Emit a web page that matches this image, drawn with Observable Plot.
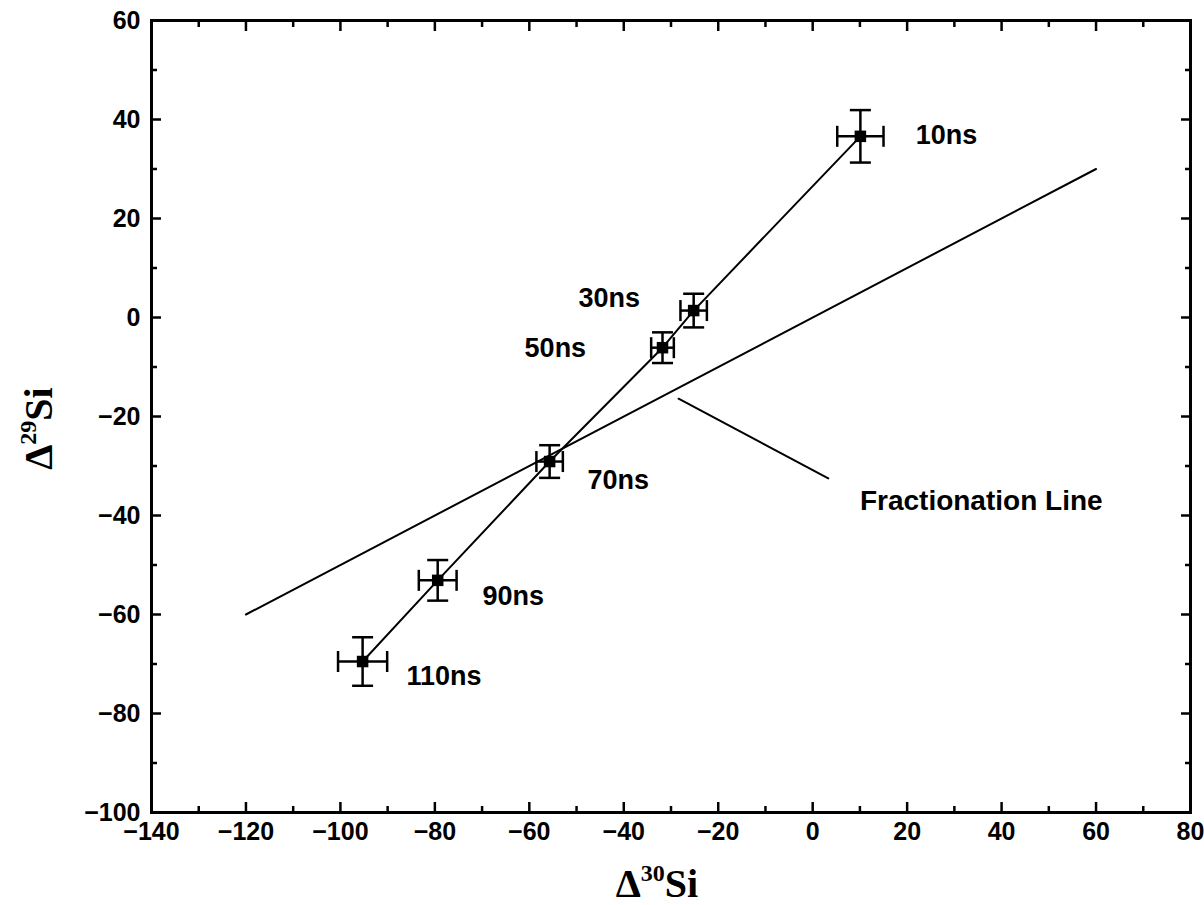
<!DOCTYPE html>
<html>
<head>
<meta charset="utf-8">
<script src="https://cdn.jsdelivr.net/npm/d3@7"></script>
<script src="https://cdn.jsdelivr.net/npm/@observablehq/plot@0.6"></script>
<style>
  body { margin: 0; background: white; }
</style>
</head>
<body>
<div id="chart"></div>
<script>
// Data: Δ30Si (x) and Δ29Si (y) with errors, by delay time
const labels   = ["10ns", "30ns", "50ns", "70ns", "90ns", "110ns"];
const d30      = [10.1, -25.2, -31.8, -55.7, -79.4, -95.3];
const d29      = [36.6, 1.4, -6.1, -29.1, -53.1, -69.5];
const d30Err   = [4.9, 2.8, 2.4, 2.8, 4.0, 5.2];
const d29Err   = [5.3, 3.4, 3.1, 3.3, 4.1, 4.9];
// label anchor positions (data units)
const labelX   = [21.8, -49.6, -61.0, -47.7, -69.9, -86.0];
const labelY   = [36.8, 3.8, -6.3, -32.9, -56.4, -72.5];

// Fractionation line endpoints
const fracX = [-120, 60];
const fracY = [-60, 30];
// pointer line to label
const pointerX = [-28.4, 3.3];
const pointerY = [-16.4, -32.5];
const fracLabel = "Fractionation Line";
const fracLabelX = 10.0;
const fracLabelY = -37.0;

// ticks
const xMajor = d3.range(-140, 81, 20);
const xMinor = d3.range(-130, 80, 20);
const yMajor = d3.range(-100, 61, 20);
const yMinor = d3.range(-90, 60, 20);

const pts = labels.map((l, i) => ({label: l, x: d30[i], y: d29[i], ex: d30Err[i], ey: d29Err[i], lx: labelX[i], ly: labelY[i]}));
const frac = fracX.map((x, i) => ({x, y: fracY[i]}));
const pointer = pointerX.map((x, i) => ({x, y: pointerY[i]}));

const vCap = { draw(ctx, size) { const r = Math.sqrt(size / Math.PI); ctx.moveTo(0, -r); ctx.lineTo(0, r); } };
const hCap = { draw(ctx, size) { const r = Math.sqrt(size / Math.PI); ctx.moveTo(-r, 0); ctx.lineTo(r, 0); } };

const sans = "'Liberation Sans', Arial, Helvetica, sans-serif";

const chart = Plot.plot({
  width: 1204,
  height: 905,
  marginLeft: 151,
  marginRight: 14,
  marginTop: 20,
  marginBottom: 93,
  style: { fontFamily: sans, fontWeight: "bold", fontSize: "25px", background: "white", color: "black" },
  x: { domain: [-140, 80], label: "Δ30Si" },
  y: { domain: [-100, 60], label: "Δ29Si" },
  marks: [
    // axes: labels
    Plot.axisX(xMajor, { anchor: "bottom", tickSize: 0, tickPadding: 10, label: "Δ30Si", labelAnchor: "center", labelOffset: 84 }),
    Plot.axisY(yMajor, { anchor: "left", tickSize: 0, tickPadding: 11, label: "Δ29Si", labelAnchor: "center", labelOffset: 128 }),
    // inward ticks on all four sides
    Plot.axisX(xMajor, { anchor: "bottom", tickSize: -10, tickFormat: () => "", label: null, strokeWidth: 2.5 }),
    Plot.axisX(xMinor, { anchor: "bottom", tickSize: -6, tickFormat: () => "", label: null, strokeWidth: 2.5 }),
    Plot.axisX(xMajor, { anchor: "top", tickSize: -10, tickFormat: () => "", label: null, strokeWidth: 2.5 }),
    Plot.axisX(xMinor, { anchor: "top", tickSize: -6, tickFormat: () => "", label: null, strokeWidth: 2.5 }),
    Plot.axisY(yMajor, { anchor: "left", tickSize: -10, tickFormat: () => "", label: null, strokeWidth: 2.5 }),
    Plot.axisY(yMinor, { anchor: "left", tickSize: -6, tickFormat: () => "", label: null, strokeWidth: 2.5 }),
    Plot.axisY(yMajor, { anchor: "right", tickSize: -10, tickFormat: () => "", label: null, strokeWidth: 2.5 }),
    Plot.axisY(yMinor, { anchor: "right", tickSize: -6, tickFormat: () => "", label: null, strokeWidth: 2.5 }),
    Plot.frame({ stroke: "black", strokeWidth: 3 }),
    // fractionation line and pointer
    Plot.line(frac, { x: "x", y: "y", stroke: "black", strokeWidth: 2 }),
    Plot.line(pointer, { x: "x", y: "y", stroke: "black", strokeWidth: 2 }),
    Plot.text([fracLabel], { x: fracLabelX, y: fracLabelY, text: d => d, textAnchor: "start", fontSize: 28, fontWeight: "bold" }),
    // data line
    Plot.line(pts, { x: "x", y: "y", stroke: "black", strokeWidth: 2 }),
    // error bars
    Plot.link(pts, { x1: d => d.x - d.ex, x2: d => d.x + d.ex, y1: "y", y2: "y", stroke: "black", strokeWidth: 2.5 }),
    Plot.link(pts, { x1: "x", x2: "x", y1: d => d.y - d.ey, y2: d => d.y + d.ey, stroke: "black", strokeWidth: 2.5 }),
    Plot.dot(pts, { x: d => d.x - d.ex, y: "y", symbol: vCap, r: 10.5, stroke: "black", strokeWidth: 2.5 }),
    Plot.dot(pts, { x: d => d.x + d.ex, y: "y", symbol: vCap, r: 10.5, stroke: "black", strokeWidth: 2.5 }),
    Plot.dot(pts, { x: "x", y: d => d.y - d.ey, symbol: hCap, r: 10.5, stroke: "black", strokeWidth: 2.5 }),
    Plot.dot(pts, { x: "x", y: d => d.y + d.ey, symbol: hCap, r: 10.5, stroke: "black", strokeWidth: 2.5 }),
    Plot.dot(pts, { x: "x", y: "y", symbol: "square", r: 6.5, fill: "black", stroke: "none" }),
    // point labels
    Plot.text(pts, { x: "lx", y: "ly", text: "label", textAnchor: "start", fontSize: 27, fontWeight: "bold" })
  ]
});

// Style axis labels with superscripts (serif)
function styleLabel(t, sup) {
  t.textContent = "";
  t.setAttribute("font-family", "'Liberation Serif', 'Times New Roman', serif");
  t.setAttribute("font-size", "40");
  t.setAttribute("font-weight", "bold");
  const ns = "http://www.w3.org/2000/svg";
  const a = document.createElementNS(ns, "tspan"); a.textContent = "Δ";
  const b = document.createElementNS(ns, "tspan"); b.textContent = sup; b.setAttribute("font-size", "24"); b.setAttribute("dy", "-16");
  const c = document.createElementNS(ns, "tspan"); c.textContent = "Si"; c.setAttribute("dy", "16");
  t.append(a, b, c);
}
document.getElementById("chart").append(chart);
const xl = chart.querySelector('[aria-label="x-axis label"] text');
const yl = chart.querySelector('[aria-label="y-axis label"] text');
if (xl) { styleLabel(xl, "30"); xl.setAttribute("dx", "-14"); }
if (yl) { styleLabel(yl, "29"); yl.setAttribute("dx", "-12"); }
</script>
</body>
</html>
